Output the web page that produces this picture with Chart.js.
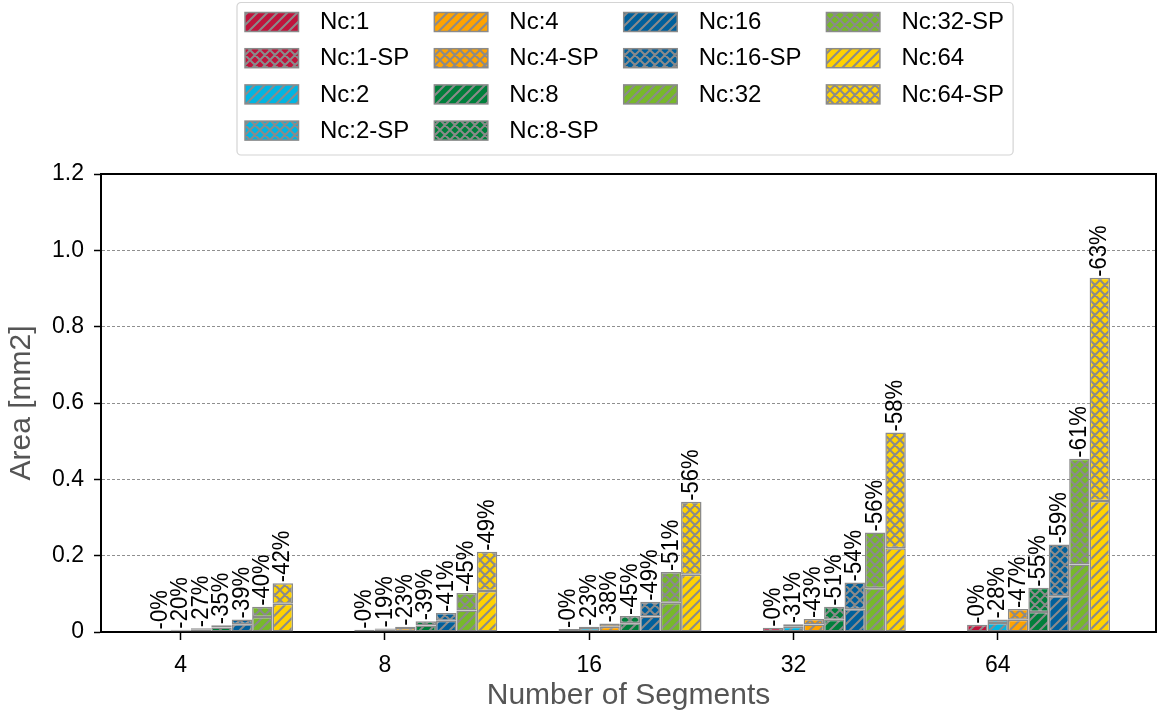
<!DOCTYPE html>
<html>
<head>
<meta charset="utf-8">
<title>Area vs segments</title>
<script src="https://cdn.jsdelivr.net/npm/chart.js@4.4.1/dist/chart.umd.min.js"></script>
<style>
    html, body { margin: 0; padding: 0; background: #fff; }
    #chart { width: 1162px; height: 715px; }
</style>
</head>
<body>
<div id="chart"><canvas id="myChart" width="1162" height="715"></canvas></div>
<script>
const segments = ['4', '8', '16', '32', '64'];
const ncNames = ['Nc:1', 'Nc:2', 'Nc:4', 'Nc:8', 'Nc:16', 'Nc:32', 'Nc:64'];
const ncColors = ['#c0143c', '#00b5e2', '#ffa300', '#007f3b', '#00609c', '#77b82a', '#ffd200'];

// area without SP [mm2], one value per segment count
const areaNc1  = [0.004, 0.006, 0.008, 0.011, 0.019];
const areaNc2  = [0.006, 0.009, 0.014, 0.020, 0.033];
const areaNc4  = [0.010, 0.014, 0.022, 0.034, 0.060];
const areaNc8  = [0.018, 0.028, 0.042, 0.066, 0.116];
const areaNc16 = [0.033, 0.050, 0.079, 0.130, 0.229];
const areaNc32 = [0.066, 0.102, 0.157, 0.261, 0.454];
const areaNc64 = [0.128, 0.210, 0.341, 0.523, 0.928];

// area saved by SP [%]
const redNc1  = [0, 0, 0, 0, 0];
const redNc2  = [20, 19, 23, 31, 28];
const redNc4  = [27, 23, 38, 43, 47];
const redNc8  = [35, 39, 45, 51, 55];
const redNc16 = [39, 41, 49, 54, 59];
const redNc32 = [40, 45, 51, 56, 61];
const redNc64 = [42, 49, 56, 58, 63];

const yTicks = [0, 0.2, 0.4, 0.6, 0.8, 1.0, 1.2];
const yTickLabels = ['0', '0.2', '0.4', '0.6', '0.8', '1.0', '1.2'];

const areas = [areaNc1, areaNc2, areaNc4, areaNc8, areaNc16, areaNc32, areaNc64];
const reductions = [redNc1, redNc2, redNc4, redNc8, redNc16, redNc32, redNc64];

// the segment tick sits on the 2nd bar of each group of 7 bars (width 0.1)
const GROUP_SHIFT = 0.2;
const FONT = '"Liberation Sans", Arial, sans-serif';
const EDGE = '#8a8a8a';

Chart.defaults.font.family = FONT;

function hatch(color, cross) {
    const s = 10;
    const c = document.createElement('canvas');
    c.width = s;
    c.height = s;
    const g = c.getContext('2d');
    g.fillStyle = color;
    g.fillRect(0, 0, s, s);
    g.strokeStyle = EDGE;
    g.lineWidth = 2;
    g.beginPath();
    g.moveTo(-s, s); g.lineTo(s, -s);
    g.moveTo(0, s); g.lineTo(s, 0);
    g.moveTo(0, 2 * s); g.lineTo(2 * s, 0);
    if (cross) {
        g.moveTo(-s, 0); g.lineTo(s, 2 * s);
        g.moveTo(0, 0); g.lineTo(s, s);
        g.moveTo(0, -s); g.lineTo(2 * s, s);
    }
    g.stroke();
    return g.createPattern(c, 'repeat');
}

const datasets = [];
ncNames.forEach((name, k) => {
    const lower = areas[k].map((v, i) => v * (1 - reductions[k][i] / 100));
    const common = {stack: name, borderColor: EDGE, borderWidth: 1.5, borderSkipped: false};
    datasets.push(Object.assign({
        label: name,
        data: lower.map((v, i) => ({x: i, y: v})),
        backgroundColor: hatch(ncColors[k], false)
    }, common));
    datasets.push(Object.assign({
        label: name + '-SP',
        data: areas[k].map((v, i) => ({x: i, y: v - lower[i]})),
        backgroundColor: hatch(ncColors[k], true),
        reduction: reductions[k]
    }, common));
});

// rotated "-xx%" above every bar
const reductionLabels = {
    id: 'reductionLabels',
    afterDatasetsDraw(chart) {
        const ctx = chart.ctx;
        ctx.save();
        ctx.font = '24px ' + FONT;
        ctx.fillStyle = '#000';
        ctx.textAlign = 'left';
        ctx.textBaseline = 'middle';
        chart.data.datasets.forEach((ds, d) => {
            if (!ds.reduction) return;
            chart.getDatasetMeta(d).data.forEach((bar, i) => {
                ctx.save();
                ctx.translate(bar.x, bar.y - 1);
                ctx.rotate(-Math.PI / 2);
                ctx.scale(0.92, 1);
                ctx.fillText('-' + ds.reduction[i] + '%', 0, 0);
                ctx.restore();
            });
        });
        ctx.restore();
    }
};

// top and right spines
const frame = {
    id: 'frame',
    afterDraw(chart) {
        const {ctx, chartArea: a} = chart;
        ctx.save();
        ctx.strokeStyle = '#000';
        ctx.lineWidth = 2;
        ctx.beginPath();
        ctx.moveTo(a.left - 1, a.top);
        ctx.lineTo(a.right, a.top);
        ctx.lineTo(a.right, a.bottom + 1);
        ctx.stroke();
        ctx.restore();
    }
};

// legend filled column by column, 4 columns
const columnLegend = {
    id: 'columnLegend',
    afterDraw(chart) {
        const ctx = chart.ctx;
        const items = chart.data.datasets;
        const ncol = 4;
        const nrows = Math.ceil(items.length / ncol);
        const big = items.length % ncol || ncol;
        const cols = [];
        let n = 0;
        for (let c = 0; c < ncol; c++) {
            const cnt = c < big ? nrows : nrows - 1;
            cols.push(items.slice(n, n + cnt));
            n += cnt;
        }
        const boxLeft = 237, boxTop = 2.5, boxBottom = 155;
        const swW = 53.5, swH = 19, textOff = 75, colGap = 25;
        const row0 = 22, rowStep = 36.2;
        ctx.save();
        ctx.font = '24px ' + FONT;
        let x = boxLeft + 8;
        const colX = [];
        cols.forEach(col => {
            colX.push(x);
            const w = Math.max(...col.map(ds => ctx.measureText(ds.label).width));
            x += textOff + w + colGap;
        });
        const boxRight = x - colGap + 9;

        ctx.fillStyle = 'rgba(255,255,255,0.85)';
        ctx.strokeStyle = '#d4d4d4';
        ctx.lineWidth = 1.2;
        ctx.beginPath();
        ctx.roundRect(boxLeft, boxTop, boxRight - boxLeft, boxBottom - boxTop, 4);
        ctx.fill();
        ctx.stroke();

        cols.forEach((col, c) => {
            col.forEach((ds, r) => {
                const cy = row0 + r * rowStep;
                ctx.fillStyle = ds.backgroundColor;
                ctx.fillRect(colX[c], cy - swH / 2, swW, swH);
                ctx.strokeStyle = EDGE;
                ctx.lineWidth = 1.5;
                ctx.strokeRect(colX[c], cy - swH / 2, swW, swH);
                ctx.fillStyle = '#000';
                ctx.textAlign = 'left';
                ctx.textBaseline = 'middle';
                ctx.fillText(ds.label, colX[c] + textOff, cy + 0.5);
            });
        });
        ctx.restore();
    }
};

new Chart(document.getElementById('myChart'), {
    type: 'bar',
    data: {datasets: datasets},
    plugins: [reductionLabels, frame, columnLegend],
    options: {
        responsive: false,
        animation: false,
        devicePixelRatio: 1,
        layout: {padding: {top: 174, right: 6, left: 0, bottom: 0}},
        datasets: {bar: {categoryPercentage: 0.7, barPercentage: 1.0}},
        plugins: {legend: {display: false}, tooltip: {enabled: false}},
        scales: {
            x: {
                type: 'linear',
                stacked: true,
                offset: false,
                bounds: 'data',
                min: -0.59,
                max: 4.575,
                afterBuildTicks: s => { s.ticks = segments.map((_, i) => ({value: i - GROUP_SHIFT})); },
                afterFit: s => { s.height = 83; },
                ticks: {
                    callback: (v, i) => segments[i],
                    autoSkip: false,
                    maxRotation: 0,
                    color: '#000',
                    font: {size: 23},
                    padding: 12
                },
                grid: {drawOnChartArea: false, drawTicks: true, tickLength: 8, tickColor: '#000', tickWidth: 1.5, offset: false},
                border: {color: '#000', width: 2},
                title: {display: true, text: 'Number of Segments', color: '#555', font: {size: 30}, padding: {top: 0, bottom: 1}}
            },
            y: {
                stacked: true,
                min: 0,
                max: 1.2,
                afterBuildTicks: s => { s.ticks = yTicks.map(v => ({value: v})); },
                afterFit: s => { s.width = 101; },
                ticks: {
                    callback: (v, i) => yTickLabels[i],
                    color: '#000',
                    font: {size: 23},
                    padding: 10
                },
                grid: {
                    color: c => (c.index > 0 && c.index < yTicks.length - 1) ? '#8f8f8f' : 'rgba(0,0,0,0)',
                    lineWidth: 1,
                    tickColor: '#000',
                    tickLength: 7,
                    tickWidth: 1.5,
                    tickBorderDash: []
                },
                border: {color: '#000', width: 2, dash: [3, 2]},
                title: {display: true, text: 'Area [mm2]', color: '#555', font: {size: 30}, padding: {top: 4, bottom: 0}}
            }
        }
    }
});
</script>
</body>
</html>
